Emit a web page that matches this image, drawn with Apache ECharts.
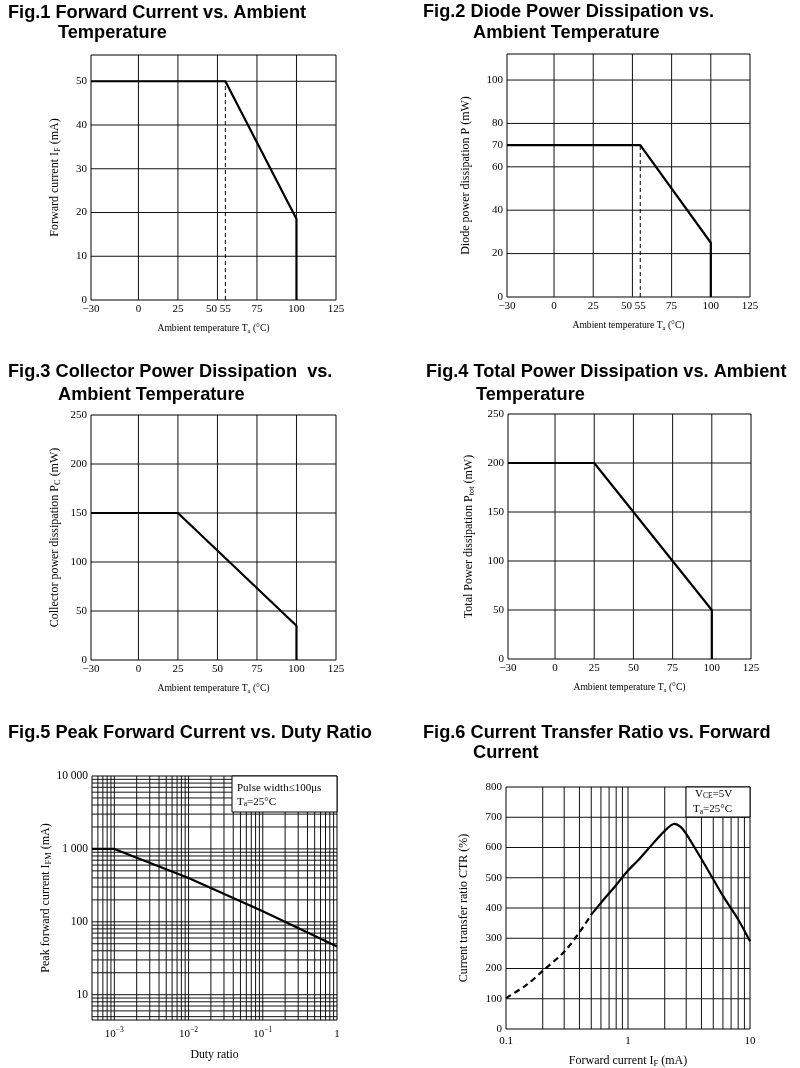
<!DOCTYPE html>
<html><head><meta charset="utf-8">
<script src="https://cdn.jsdelivr.net/npm/echarts@6/dist/echarts.min.js"></script>
<style>html,body{margin:0;padding:0;background:#fff}#c{width:800px;height:1068px}</style>
</head><body><div id="c"></div>
<script>
// ---------- DATA ----------
// Fig.1 Forward current vs ambient temperature
const fig1Ta = [-30, 55, 100, 100];
const fig1If = [50, 50, 18.5, 0];
const fig1DashTa = [55, 55];
const fig1DashIf = [0, 50];
// Fig.2 Diode power dissipation
const fig2Ta = [-30, 55, 100, 100];
const fig2P = [70, 70, 25, 0];
const fig2DashTa = [55, 55];
const fig2DashP = [0, 70];
// Fig.3 Collector power dissipation
const fig3Ta = [-30, 25, 100, 100];
const fig3Pc = [150, 150, 35, 0];
// Fig.4 Total power dissipation
const fig4Ta = [-30, 25, 100, 100];
const fig4Ptot = [200, 200, 50, 0];
// Fig.5 Peak forward current vs duty ratio
const fig5Duty = [0.0005, 0.001, 0.01, 0.1, 1];
const fig5Ifm = [1000, 1000, 400, 140, 46];
// Fig.6 CTR vs forward current (dashed low-current part, solid rest)
const fig6DashIf = [0.1, 0.15, 0.2, 0.3, 0.4, 0.5];
const fig6DashCtr = [102, 148, 192, 255, 320, 378];
const fig6SolidIf = [0.5, 0.6, 0.8, 1, 1.2, 1.5, 2, 2.4, 2.7, 3, 4, 5, 6, 8, 10];
const fig6SolidCtr = [378, 417, 476, 524, 556, 600, 655, 678, 668, 645, 562, 495, 440, 362, 290];

// axis ranges
const tempRange = [-30, 125];
const fig1YRange = [0, 56];
const fig2YRange = [0, 112];
const pwrRange = [0, 250];
const fig5XRange = [0.0005, 1];
const fig5YRange = [4.5, 10000];
const fig6XRange = [0.1, 10];
const fig6YRange = [0, 800];

// tick labels / grid values
const tempTicks12 = [-30, 0, 25, 50, 55, 75, 100, 125];
const tempTicks34 = [-30, 0, 25, 50, 75, 100, 125];
const tempGrid = [0, 25, 50, 75, 100];
const fig1YTicks = [0, 10, 20, 30, 40, 50];
const fig1YGrid = [10, 20, 30, 40, 50];
const fig2YTicks = [0, 20, 40, 60, 70, 80, 100];
const fig2YGrid = [20, 40, 60, 80, 100];
const pwrTicks = [0, 50, 100, 150, 200, 250];
const pwrGrid = [50, 100, 150, 200];
const fig5XGrid = [0.0006,0.0007,0.0008,0.0009,0.001,0.002,0.003,0.004,0.005,0.006,0.007,0.008,0.009,0.01,0.02,0.03,0.04,0.05,0.06,0.07,0.08,0.09,0.1,0.2,0.3,0.4,0.5,0.6,0.7,0.8,0.9];
const fig5YGrid = [5,6,7,8,9,10,20,30,40,50,60,70,80,90,100,200,300,400,500,600,700,800,900,1000,2000,3000,4000,5000,6000,7000,8000,9000];
const fig6XGrid = [0.2,0.3,0.4,0.5,0.6,0.7,0.8,0.9,1,2,3,4,5,6,7,8,9];
const fig6YTicks = [0,100,200,300,400,500,600,700,800];
const fig6YGrid = [100,200,300,400,500,600,700];

// ---------- STYLE ----------
const SERIF = 'Liberation Serif';
const SANS = 'Liberation Sans';
const TICK_FS = 11, XNAME_FS = 9.6, YNAME_FS = 12;
const subRich = (fs) => ({
  a: {fontFamily: SERIF, fontSize: fs, color: '#000', lineHeight: fs + 2},
  s: {fontFamily: SERIF, fontSize: fs * 0.7, color: '#000', verticalAlign: 'bottom', lineHeight: fs * 0.7, padding: [0, 0, 0, 0]}
});

const grids = [
  {left: 91, top: 55, width: 245, height: 245},
  {left: 507, top: 54, width: 243, height: 243},
  {left: 91, top: 415, width: 245, height: 245},
  {left: 508, top: 414, width: 243, height: 245},
  {left: 92, top: 776, width: 245, height: 244},
  {left: 506, top: 787, width: 244, height: 242}
].map(g => Object.assign(g, {show: true, borderColor: '#000', borderWidth: 1, containLabel: false, outerBoundsMode: 'none'}));

const minus = v => String(v).replace('-', '\u2212');

function tempXAxis(i, ticks) {
  return {
    gridIndex: i, type: 'value', min: tempRange[0], max: tempRange[1],
    axisLine: {show: false}, axisTick: {show: false}, splitLine: {show: false},
    axisLabel: {
      customValues: ticks, margin: 4, fontFamily: SERIF, fontSize: TICK_FS, color: '#000',
      formatter: v => v === 50 && ticks.indexOf(55) >= 0 ? '{l|50}' : minus(v),
      rich: {l: {fontFamily: SERIF, fontSize: TICK_FS, color: '#000', padding: [0, 12, 0, 0]}}
    },
    name: '{a|Ambient temperature T}{s|a}{a| (°C)}', nameLocation: 'middle', nameGap: 23,
    nameTextStyle: {rich: subRich(XNAME_FS)}
  };
}
function linYAxis(i, range, ticks, name, gap) {
  return {
    gridIndex: i, type: 'value', min: range[0], max: range[1],
    axisLine: {show: false}, axisTick: {show: false}, splitLine: {show: false},
    axisLabel: {customValues: ticks, margin: 4, fontFamily: SERIF, fontSize: TICK_FS, color: '#000'},
    name: name, nameLocation: 'middle', nameGap: gap, nameRotate: 90,
    nameTextStyle: {rich: subRich(YNAME_FS)}
  };
}
// grid lines drawn as one broken line series through the axes' own scales
function gridSeries(i, xs, ys, xr, yr) {
  const d = [];
  xs.forEach(v => { d.push([v, yr[0]], [v, yr[1]], ['-', '-']); });
  ys.forEach(v => { d.push([xr[0], v], [xr[1], v], ['-', '-']); });
  return {
    type: 'line', xAxisIndex: i, yAxisIndex: i, data: d, silent: true, animation: false,
    symbol: 'none', connectNulls: false, z: 1,
    lineStyle: {color: '#111', width: 1, type: 'solid'}
  };
}
const zip = (a, b) => a.map((v, k) => [v, b[k]]);
function curve(i, xs, ys, opts) {
  return Object.assign({
    type: 'line', xAxisIndex: i, yAxisIndex: i, data: zip(xs, ys), symbol: 'none',
    animation: false, silent: true, z: 3, clip: false,
    lineStyle: {color: '#000', width: 2.2}
  }, opts || {});
}
const isDecade = v => Math.abs(Math.log10(v) - Math.round(Math.log10(v))) < 1e-6;

const titleStyle = {fontFamily: SANS, fontWeight: 'bold', fontSize: 18.2, color: '#000', lineHeight: 20};
const titles = [
  ['Fig.1 Forward Current vs. Ambient', 8, 3], ['Temperature', 58, 23],
  ['Fig.2 Diode Power Dissipation vs.', 423, 2], ['Ambient Temperature', 473, 23],
  ['Fig.3 Collector Power Dissipation  vs.', 8, 362], ['Ambient Temperature', 58, 385],
  ['Fig.4 Total Power Dissipation vs. Ambient', 426, 362], ['Temperature', 476, 385],
  ['Fig.5 Peak Forward Current vs. Duty Ratio', 8, 723],
  ['Fig.6 Current Transfer Ratio vs. Forward', 423, 723], ['Current', 473, 743]
].map(t => ({text: t[0], left: t[1], top: t[2], padding: 0, textStyle: titleStyle}));

const boxText = (txt, x, y) => ({
  type: 'text', z: 101,
  style: {text: txt, x: x, y: y, verticalAlign: 'middle', fontFamily: SERIF, fontSize: 11, fill: '#000',
    rich: {a: {fontFamily: SERIF, fontSize: 11, lineHeight: 13}, s: {fontFamily: SERIF, fontSize: 7.5, verticalAlign: 'bottom', lineHeight: 8}}}
});

const option = {
  backgroundColor: '#fff',
  animation: false,
  title: titles,
  grid: grids,
  xAxis: [
    tempXAxis(0, tempTicks12),
    tempXAxis(1, tempTicks12),
    tempXAxis(2, tempTicks34),
    tempXAxis(3, tempTicks34),
    {
      gridIndex: 4, type: 'log', logBase: 10, min: fig5XRange[0], max: fig5XRange[1],
      axisLine: {show: false}, axisTick: {show: false}, splitLine: {show: false},
      axisLabel: {
        margin: 6, fontFamily: SERIF, fontSize: TICK_FS, color: '#000',
        formatter: v => {
          if (!isDecade(v)) return '';
          const e = Math.round(Math.log10(v));
          return e === 0 ? '{b|1}' : '{b|10}{p|\u2212' + (-e) + '}';
        },
        rich: {b: {fontFamily: SERIF, fontSize: TICK_FS, lineHeight: 14, verticalAlign: 'bottom'},
               p: {fontFamily: SERIF, fontSize: 7.5, lineHeight: 14, verticalAlign: 'top'}}
      },
      name: 'Duty ratio', nameLocation: 'middle', nameGap: 29,
      nameTextStyle: {fontFamily: SERIF, fontSize: 11.8, color: '#000'}
    },
    {
      gridIndex: 5, type: 'log', logBase: 10, min: fig6XRange[0], max: fig6XRange[1],
      axisLine: {show: false}, axisTick: {show: false}, splitLine: {show: false},
      axisLabel: {margin: 7, fontFamily: SERIF, fontSize: TICK_FS, color: '#000',
        formatter: v => isDecade(v) ? String(Math.round(v * 10) / 10) : ''},
      name: '{a|Forward current I}{s|F}{a| (mA)}', nameLocation: 'middle', nameGap: 25,
      nameTextStyle: {rich: subRich(12)}
    }
  ],
  yAxis: [
    linYAxis(0, fig1YRange, fig1YTicks, '{a|Forward current I}{s|F}{a| (mA)}', 29),
    linYAxis(1, fig2YRange, fig2YTicks, '{a|Diode power dissipation P (mW)}', 34),
    linYAxis(2, pwrRange, pwrTicks, '{a|Collector power dissipation P}{s|C}{a| (mW)}', 29),
    linYAxis(3, pwrRange, pwrTicks, '{a|Total Power dissipation P}{s|tot}{a| (mW)}', 32),
    {
      gridIndex: 4, type: 'log', logBase: 10, min: fig5YRange[0], max: fig5YRange[1],
      axisLine: {show: false}, axisTick: {show: false}, splitLine: {show: false},
      axisLabel: {margin: 4, fontFamily: SERIF, fontSize: 11.5, color: '#000',
        formatter: v => isDecade(v) ? String(Math.round(v)).replace(/(\d)(?=(\d{3})+$)/g, '$1 ') : ''},
      name: '{a|Peak forward current I}{s|FM}{a| (mA)}', nameLocation: 'middle', nameGap: 38, nameRotate: 90,
      nameTextStyle: {rich: subRich(YNAME_FS)}
    },
    linYAxis(5, fig6YRange, fig6YTicks, '{a|Current transfer ratio CTR (%)}', 35)
  ],
  series: [
    gridSeries(0, tempGrid, fig1YGrid, tempRange, fig1YRange),
    curve(0, fig1DashTa, fig1DashIf, {lineStyle: {color: '#000', width: 1, type: [4, 3]}, z: 2}),
    curve(0, fig1Ta, fig1If),
    gridSeries(1, tempGrid, fig2YGrid, tempRange, fig2YRange),
    curve(1, fig2DashTa, fig2DashP, {lineStyle: {color: '#000', width: 1, type: [4, 3]}, z: 2}),
    curve(1, fig2Ta, fig2P),
    gridSeries(2, tempGrid, pwrGrid, tempRange, pwrRange),
    curve(2, fig3Ta, fig3Pc),
    gridSeries(3, tempGrid, pwrGrid, tempRange, pwrRange),
    curve(3, fig4Ta, fig4Ptot),
    gridSeries(4, fig5XGrid, fig5YGrid, fig5XRange, fig5YRange),
    curve(4, fig5Duty, fig5Ifm),
    gridSeries(5, fig6XGrid, fig6YGrid, fig6XRange, fig6YRange),
    curve(5, fig6DashIf, fig6DashCtr, {smooth: 0.3, lineStyle: {color: '#000', width: 2.2, type: [6, 4]}}),
    curve(5, fig6SolidIf, fig6SolidCtr, {smooth: 0.3})
  ],
  graphic: [
    {type: 'rect', z: 100, shape: {x: 232, y: 776, width: 105, height: 36}, style: {fill: '#fff', stroke: '#000', lineWidth: 1}},
    boxText('Pulse width\u2264100\u03bcs', 237, 788.5),
    boxText('{a|T}{s|a}{a|=25°C}', 237, 802),
    {type: 'rect', z: 100, shape: {x: 686, y: 787, width: 64, height: 30}, style: {fill: '#fff', stroke: '#000', lineWidth: 1}},
    boxText('{a|V}{s|CE}{a|=5V}', 695, 794),
    boxText('{a|T}{s|a}{a|=25°C}', 693, 809.5)
  ]
};
const chart = echarts.init(document.getElementById('c'), null, {renderer: 'canvas'});
chart.setOption(option);
</script></body></html>
